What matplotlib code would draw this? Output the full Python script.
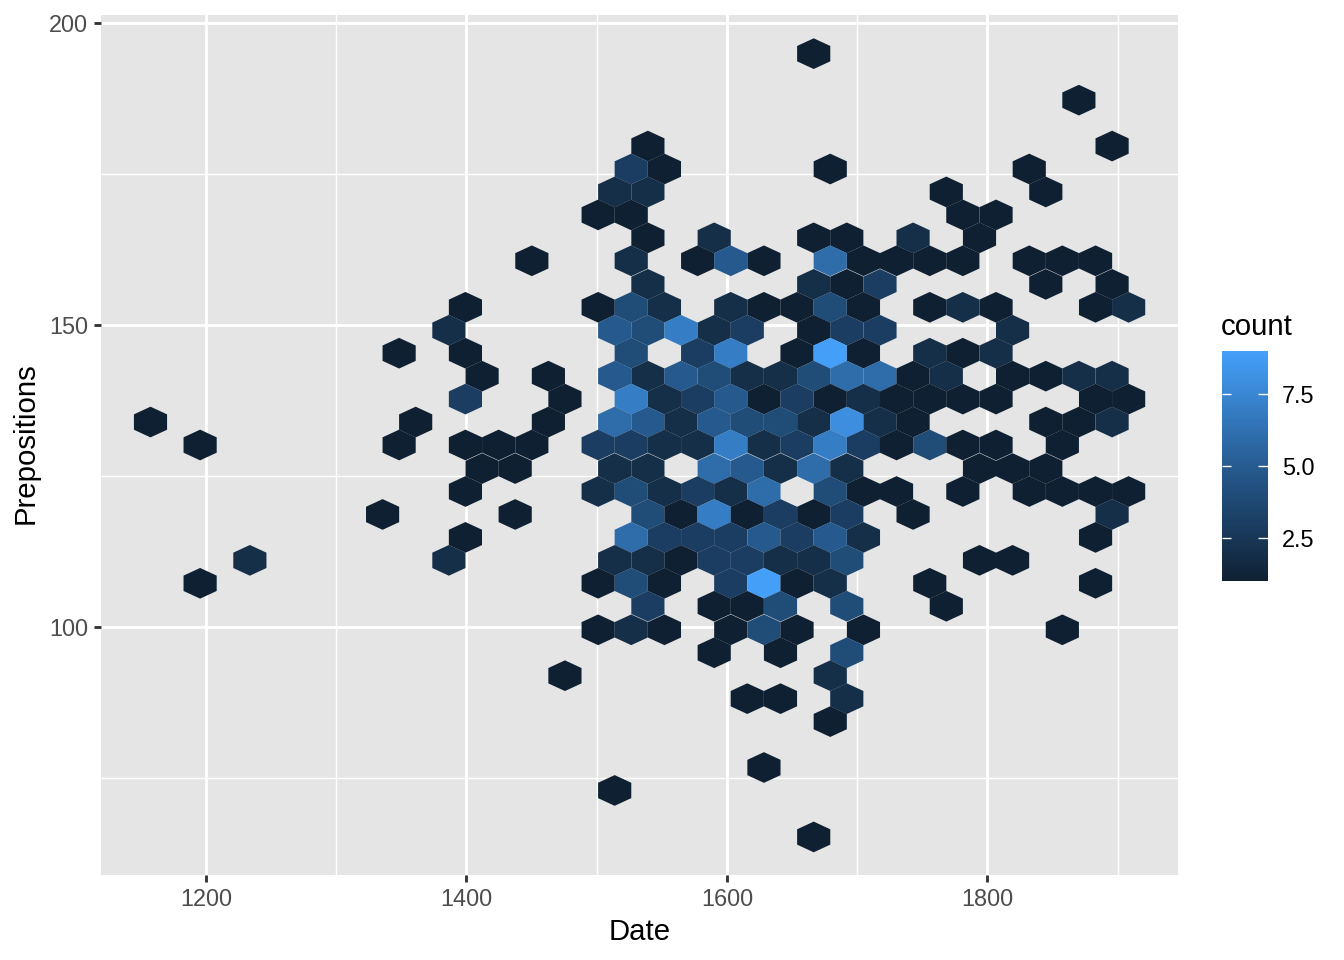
import matplotlib
matplotlib.use('Agg')
import matplotlib.pyplot as plt
from matplotlib.collections import PolyCollection
from matplotlib.colors import LinearSegmentedColormap, Normalize
from matplotlib.cm import ScalarMappable

plt.rcParams['font.family'] = ['Liberation Sans', 'DejaVu Sans']

# Hexagon rows: one Prepositions value per row
row_prepositions = [194.9, 187.2, 179.6, 175.8, 172.0, 168.2, 164.4, 160.6, 156.7, 152.9,
                    149.1, 145.3, 141.5, 137.7, 133.9, 130.1, 126.2, 122.4, 118.6, 114.8,
                    111.0, 107.2, 103.4, 99.5, 95.7, 91.9, 88.1, 84.3, 76.7, 72.9, 65.2]

row_dates = [
    [1666.6],
    [1870.2],
    [1539.3, 1895.7],
    [1526.5, 1552.0, 1679.3, 1832.1],
    [1513.8, 1539.3, 1768.4, 1844.8],
    [1501.1, 1526.5, 1781.1, 1806.6],
    [1539.3, 1590.2, 1666.6, 1692.0, 1742.9, 1793.9],
    [1450.2, 1526.5, 1577.5, 1602.9, 1628.4, 1679.3, 1704.8, 1730.2, 1755.7, 1781.1, 1832.1, 1857.5, 1883.0],
    [1539.3, 1666.6, 1692.0, 1717.5, 1844.8, 1895.7],
    [1399.2, 1501.1, 1526.5, 1552.0, 1602.9, 1628.4, 1653.8, 1679.3, 1704.8, 1755.7, 1781.1, 1806.6, 1883.0, 1908.4],
    [1386.5, 1513.8, 1539.3, 1564.7, 1590.2, 1615.6, 1666.6, 1692.0, 1717.5, 1819.3],
    [1348.3, 1399.2, 1526.5, 1577.5, 1602.9, 1653.8, 1679.3, 1704.8, 1755.7, 1781.1, 1806.6],
    [1412.0, 1462.9, 1513.8, 1539.3, 1564.7, 1590.2, 1615.6, 1641.1, 1666.6, 1692.0, 1717.5, 1742.9, 1768.4, 1819.3, 1844.8, 1870.2, 1895.7],
    [1399.2, 1475.6, 1526.5, 1552.0, 1577.5, 1602.9, 1628.4, 1653.8, 1679.3, 1704.8, 1730.2, 1755.7, 1781.1, 1806.6, 1883.0, 1908.4],
    [1157.4, 1361.0, 1462.9, 1513.8, 1539.3, 1564.7, 1590.2, 1615.6, 1641.1, 1666.6, 1692.0, 1717.5, 1742.9, 1844.8, 1870.2, 1895.7],
    [1195.5, 1348.3, 1399.2, 1424.7, 1450.2, 1501.1, 1526.5, 1552.0, 1577.5, 1602.9, 1628.4, 1653.8, 1679.3, 1704.8, 1730.2, 1755.7, 1781.1, 1806.6, 1857.5],
    [1412.0, 1437.4, 1513.8, 1539.3, 1590.2, 1615.6, 1641.1, 1666.6, 1692.0, 1793.9, 1819.3, 1844.8],
    [1399.2, 1501.1, 1526.5, 1552.0, 1577.5, 1602.9, 1628.4, 1679.3, 1704.8, 1730.2, 1781.1, 1832.1, 1857.5, 1883.0, 1908.4],
    [1335.6, 1437.4, 1539.3, 1564.7, 1590.2, 1615.6, 1641.1, 1666.6, 1692.0, 1742.9, 1895.7],
    [1399.2, 1526.5, 1552.0, 1577.5, 1602.9, 1628.4, 1653.8, 1679.3, 1704.8, 1883.0],
    [1233.7, 1386.5, 1513.8, 1539.3, 1564.7, 1590.2, 1615.6, 1641.1, 1666.6, 1692.0, 1793.9, 1819.3],
    [1195.5, 1501.1, 1526.5, 1552.0, 1602.9, 1628.4, 1653.8, 1679.3, 1755.7, 1883.0],
    [1539.3, 1590.2, 1615.6, 1641.1, 1692.0, 1768.4],
    [1501.1, 1526.5, 1552.0, 1602.9, 1628.4, 1653.8, 1704.8, 1857.5],
    [1590.2, 1641.1, 1692.0],
    [1475.6, 1679.3],
    [1615.6, 1641.1, 1692.0],
    [1679.3],
    [1628.4],
    [1513.8],
    [1666.6],
]

row_counts = [
    [1],
    [1],
    [1, 1],
    [3, 1, 1, 1],
    [2, 2, 1, 1],
    [1, 1, 1, 1],
    [1, 2, 1, 1, 2, 1],
    [1, 2, 1, 5, 1, 6, 1, 1, 1, 1, 1, 1, 1],
    [2, 2, 1, 3, 1, 1],
    [1, 1, 4, 2, 2, 1, 1, 4, 1, 1, 2, 1, 1, 2],
    [2, 5, 4, 7, 2, 3, 1, 3, 3, 2],
    [1, 1, 4, 3, 7, 1, 9, 1, 2, 1, 2],
    [1, 1, 5, 2, 5, 4, 2, 2, 4, 6, 6, 1, 2, 1, 1, 2, 2],
    [3, 1, 7, 2, 3, 5, 1, 3, 1, 2, 1, 1, 1, 1, 1, 1],
    [1, 1, 1, 6, 5, 2, 5, 4, 4, 2, 8, 2, 1, 1, 1, 2],
    [1, 1, 1, 1, 1, 3, 3, 2, 2, 7, 2, 3, 7, 3, 1, 4, 1, 1, 1],
    [1, 1, 2, 2, 6, 5, 2, 6, 2, 1, 1, 1],
    [1, 2, 4, 2, 3, 2, 6, 4, 1, 1, 1, 1, 1, 1, 1],
    [1, 1, 4, 1, 7, 1, 3, 1, 3, 1, 2],
    [1, 6, 3, 3, 3, 5, 3, 5, 2, 1],
    [2, 2, 2, 2, 1, 3, 3, 2, 2, 4, 1, 1],
    [1, 1, 4, 1, 3, 9, 1, 2, 1, 1],
    [3, 1, 1, 4, 4, 1],
    [1, 2, 1, 1, 4, 1, 1, 1],
    [1, 1, 4],
    [1, 2],
    [1, 1, 2],
    [1],
    [1],
    [1],
    [1],
]

x_ticks = [1200, 1400, 1600, 1800]
x_minor = [1300, 1500, 1700, 1900]
y_ticks = [100, 150, 200]
y_minor = [75, 125, 175]
legend_ticks = [2.5, 5.0, 7.5]

bin_w = 25.46  # hexagon width in years
bin_h = 3.813  # row step in prepositions


def hex_corners(x, y):
    return [(x, y + bin_h * 2 / 3), (x + bin_w / 2, y + bin_h / 3),
            (x + bin_w / 2, y - bin_h / 3), (x, y - bin_h * 2 / 3),
            (x - bin_w / 2, y - bin_h / 3), (x - bin_w / 2, y + bin_h / 3)]


cmap = LinearSegmentedColormap.from_list('count', ['#0F2032', '#265A8F', '#449FF8'])
norm = Normalize(1, 9)

fig = plt.figure(figsize=(7, 5), dpi=192)
ax = fig.add_axes([101 / 1344, 85 / 960, 1077 / 1344, 860 / 960])
ax.set_facecolor('#E5E5E5')
ax.set_axisbelow(True)

polys = []
vals = []
for prep, dates, counts in zip(row_prepositions, row_dates, row_counts):
    for d, c in zip(dates, counts):
        polys.append(hex_corners(d, prep))
        vals.append(c)

hexes = PolyCollection(polys, array=vals, cmap=cmap, norm=norm, edgecolors='none', zorder=3)
ax.add_collection(hexes)

ax.set_xlim(1119.4, 1946.3)
ax.set_ylim(58.9, 201.3)
ax.set_xticks(x_ticks)
ax.set_yticks(y_ticks)
ax.set_xticks(x_minor, minor=True)
ax.set_yticks(y_minor, minor=True)
ax.grid(which='major', color='white', lw=1.07)
ax.grid(which='minor', color='white', lw=0.53)
ax.tick_params(which='major', length=2.75, width=1.07, color='#333333',
               labelcolor='#4D4D4D', labelsize=8.8, pad=2)
ax.tick_params(which='minor', length=0)
for s in ax.spines.values():
    s.set_visible(False)

fig.text(639.5 / 1344, 1 - 932 / 960, 'Date', fontsize=11, ha='center', va='center')
fig.text(26 / 1344, 1 - 443 / 960, 'Prepositions', fontsize=11, rotation=90, ha='center', va='center')

# Legend colour bar
cax = fig.add_axes([1222 / 1344, 379 / 960, 45.5 / 1344, 230 / 960])
cbar = fig.colorbar(ScalarMappable(norm=norm, cmap=cmap), cax=cax)
cbar.outline.set_visible(False)
cbar.solids.set_edgecolor('face')
cbar.set_ticks(legend_ticks, labels=['2.5', '5.0', '7.5'])
cax.tick_params(length=0, labelsize=8.8, labelcolor='black', pad=5.5)
cax.hlines(legend_ticks, 0, 0.2, color='white', lw=0.5, transform=cax.get_yaxis_transform())
cax.hlines(legend_ticks, 0.8, 1, color='white', lw=0.5, transform=cax.get_yaxis_transform())
fig.text(1221 / 1344, 1 - 327 / 960, 'count', fontsize=11, ha='left', va='center')

fig.savefig('out.png', dpi=192, facecolor='white')
